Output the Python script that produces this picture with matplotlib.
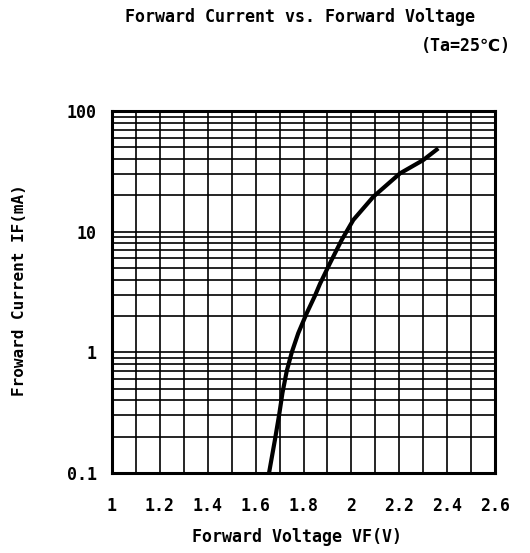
import matplotlib
matplotlib.use("Agg")
import matplotlib.pyplot as plt
from matplotlib.ticker import MultipleLocator, FixedLocator, NullFormatter

# Data
vf = [1.656, 1.681, 1.699, 1.712, 1.730, 1.751, 1.778, 1.813, 1.848, 1.869,
      1.911, 1.959, 2.008, 2.092, 2.203, 2.300, 2.363]
i_f = [0.1, 0.19, 0.31, 0.46, 0.70, 1.0, 1.44, 2.1, 2.95, 3.7,
       5.5, 8.5, 12.5, 19.5, 30.4, 39.2, 49]

x_ticks = [1, 1.2, 1.4, 1.6, 1.8, 2, 2.2, 2.4, 2.6]
x_tick_labels = ["1", "1.2", "1.4", "1.6", "1.8", "2", "2.2", "2.4", "2.6"]
y_ticks = [0.1, 1, 10, 100]
y_tick_labels = ["0.1", "1", "10", "100"]

title = "Forward Current vs. Forward Voltage"
condition = "(Ta=25\u2103)"
xlabel = "Forward Voltage VF(V)"
ylabel = "Froward Current IF(mA)"

FAM = ["DejaVu Sans Mono", "DejaVu Sans", "Noto Sans CJK JP"]
plt.rcParams["font.family"] = FAM

W, H = 530, 553
fig = plt.figure(figsize=(W / 100, H / 100), dpi=100)
L, R, T, B = 112, 495, 111, 473
ax = fig.add_axes([L / W, 1 - B / H, (R - L) / W, (B - T) / H])

ax.plot(vf, i_f, color="black", lw=3, solid_capstyle="butt",
        solid_joinstyle="round", zorder=5)
ax.set_yscale("log")
ax.set_xlim(1, 2.6)
ax.set_ylim(0.1, 100)

ax.xaxis.set_major_locator(FixedLocator(x_ticks))
ax.set_xticklabels(x_tick_labels)
ax.xaxis.set_minor_locator(MultipleLocator(0.1))
ax.yaxis.set_major_locator(FixedLocator(y_ticks))
ax.set_yticklabels(y_tick_labels)
ax.yaxis.set_minor_locator(FixedLocator([m * d for d in (0.1, 1, 10) for m in range(2, 10)]))
ax.yaxis.set_minor_formatter(NullFormatter())

ax.grid(True, which="both", color="black", lw=1.2)
ax.tick_params(which="both", length=0)
ax.tick_params(axis="x", pad=17, labelsize=12)
ax.tick_params(axis="y", pad=11, labelsize=12)
for lab in ax.get_xticklabels() + ax.get_yticklabels():
    lab.set_fontweight("bold")
for s in ax.spines.values():
    s.set_linewidth(2.2)

def fx(px):
    return px / W

def fy(py):
    return 1 - py / H

fig.text(fx(300), fy(17), title, ha="center", va="center", fontsize=12, fontweight="bold")
fig.text(fx(511), fy(46), condition, ha="right", va="center", fontsize=12, fontweight="bold")
fig.text(fx(297), fy(537), xlabel, ha="center", va="center", fontsize=12, fontweight="bold")
fig.text(fx(20), fy(290), ylabel, ha="center", va="center", rotation=90, fontsize=11.5, fontweight="bold")

fig.savefig("out.png", dpi=100, facecolor="white")
